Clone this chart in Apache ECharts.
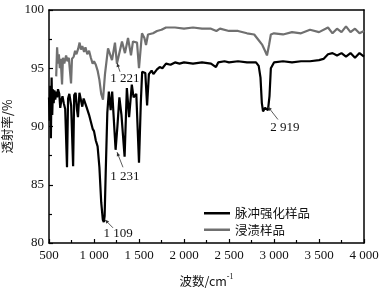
<!DOCTYPE html>
<html>
<head>
<meta charset="utf-8">
<script src="https://cdn.jsdelivr.net/npm/echarts@6/dist/echarts.min.js"></script>
<style>
  html, body { margin: 0; padding: 0; background: #fff; }
  #chart { width: 391px; height: 288px; }
</style>
</head>
<body>
<div id="chart"></div>
<script>
// 脉冲强化样品 [wavenumber, transmittance]
const pulseData = [
  [500, 92.5], [508, 90.5], [514, 93.5], [521, 89.0], [529, 94.2], [536, 91.0], [544, 93.2],
  [552, 92.0], [560, 93.1], [570, 92.3], [580, 93.0], [590, 92.5], [600, 93.2], [614, 92.8],
  [625, 91.6], [636, 92.2], [650, 92.6], [664, 92.0], [680, 91.5], [700, 86.5], [712, 92.4],
  [726, 92.8], [746, 91.8], [768, 86.6], [780, 92.7], [796, 92.9], [810, 91.5], [822, 90.8],
  [838, 92.9], [855, 92.8], [870, 91.7], [885, 92.4], [900, 92.5], [920, 91.6], [945, 91.0],
  [965, 90.4], [985, 89.8], [1000, 89.6], [1020, 88.8], [1040, 88.3], [1060, 86.5],
  [1080, 83.5], [1098, 82.0], [1109, 81.8], [1118, 82.3], [1130, 86.0], [1148, 91.2],
  [1165, 93.0], [1185, 91.4], [1202, 93.0], [1240, 88.0], [1260, 90.0], [1282, 92.5],
  [1305, 91.0], [1340, 87.4], [1365, 93.3], [1390, 90.8], [1420, 93.6], [1440, 92.5],
  [1470, 92.8], [1500, 86.9], [1520, 92.0], [1535, 94.7], [1570, 94.6], [1590, 91.8],
  [1610, 94.5], [1640, 94.8], [1660, 94.5], [1700, 94.9], [1730, 95.1], [1760, 95.0],
  [1800, 95.4], [1850, 95.3], [1900, 95.5], [1950, 95.4], [2000, 95.5], [2100, 95.4],
  [2200, 95.5], [2300, 95.4], [2355, 95.1], [2380, 95.5], [2450, 95.6], [2500, 95.5],
  [2600, 95.6], [2700, 95.5], [2800, 95.5], [2830, 95.2], [2850, 94.2], [2865, 92.0],
  [2878, 91.3], [2900, 91.6], [2920, 91.7], [2933, 91.4], [2950, 92.6], [2965, 95.0],
  [3000, 95.5], [3100, 95.6], [3200, 95.5], [3300, 95.6], [3400, 95.6], [3500, 95.7],
  [3550, 95.8], [3600, 96.2], [3650, 96.3], [3700, 96.1], [3750, 96.3], [3800, 96.0],
  [3850, 96.3], [3900, 95.9], [3950, 96.3], [4000, 96.0]
];
// 浸渍样品
const dipData = [
  [580, 94.3], [590, 96.8], [600, 95.4], [610, 96.2], [620, 95.0], [630, 95.8], [645, 93.6],
  [655, 95.9], [670, 95.4], [690, 96.1], [705, 95.6], [720, 95.9], [745, 93.7], [755, 95.8],
  [775, 96.0], [790, 96.5], [805, 96.2], [825, 96.7], [840, 97.2], [855, 96.6], [870, 96.9],
  [890, 96.4], [905, 96.8], [925, 96.2], [945, 96.5], [965, 95.9], [985, 95.4], [1000, 95.6],
  [1020, 95.3], [1040, 94.8], [1060, 94.0], [1080, 92.8], [1100, 92.3], [1122, 94.5],
  [1156, 96.7], [1200, 95.7], [1233, 97.2], [1255, 95.4], [1311, 97.3], [1344, 96.3],
  [1378, 97.6], [1411, 96.1], [1433, 97.3], [1478, 97.2], [1500, 95.0], [1533, 98.0],
  [1560, 97.6], [1578, 97.0], [1600, 97.9], [1656, 98.0], [1700, 98.2], [1750, 98.3],
  [1800, 98.5], [1900, 98.5], [2000, 98.4], [2100, 98.5], [2200, 98.4], [2300, 98.4],
  [2360, 98.2], [2400, 98.4], [2500, 98.2], [2600, 98.2], [2700, 98.0], [2780, 97.9],
  [2830, 97.4], [2870, 97.0], [2900, 96.5], [2922, 96.1], [2945, 97.0], [2965, 97.9],
  [3000, 98.0], [3100, 97.9], [3200, 98.1], [3300, 98.0], [3400, 98.3], [3500, 98.1],
  [3600, 98.5], [3650, 98.0], [3700, 98.4], [3750, 98.1], [3800, 98.6], [3850, 98.1],
  [3900, 98.4], [3950, 98.0], [4000, 98.2]
];
const seriesNames = ['脉冲强化样品', '浸渍样品'];
// peak labels: text, arrow tip, arrow tail, label centre (data units)
const peakNotes = [
  { text: '1 109', tip: [1122, 82.0], tail: [1211, 81.3], at: [1267, 80.8] },
  { text: '1 231', tip: [1256, 87.8], tail: [1322, 86.5], at: [1344, 85.7] },
  { text: '1 221', tip: [1256, 95.45], tail: [1289, 94.7], at: [1344, 94.1] },
  { text: '2 919', tip: [2933, 91.7], tail: [3044, 90.6], at: [3122, 89.9] }
];

const serif = '"Liberation Serif", "Times New Roman", serif';
const cjk = '"Noto Sans CJK SC", sans-serif';
const fmtNum = v => {
  const s = String(v);
  return s.length > 3 ? s.slice(0, s.length - 3) + ' ' + s.slice(-3) : s;
};

const chart = echarts.init(document.getElementById('chart'));
chart.setOption({
  animation: false,
  grid: { left: 49, right: 27, top: 10, bottom: 45, outerBoundsMode: 'none', containLabel: false },
  legend: {
    orient: 'vertical',
    left: 199, top: 202,
    itemWidth: 26, itemHeight: 2.5, itemGap: 4,
    icon: 'rect',
    textStyle: { fontFamily: cjk, fontSize: 12.5, color: '#111' },
    data: seriesNames
  },
  xAxis: [{
    type: 'value', min: 500, max: 4000, interval: 500,
    name: '{a|波数/cm}{s|-1}', nameLocation: 'middle', nameGap: 30,
    nameTextStyle: {
      rich: {
        a: { fontFamily: cjk, fontSize: 12.5, color: '#111' },
        s: { fontFamily: serif, fontSize: 8, color: '#111', verticalAlign: 'top', padding: [0, 0, 8, 0] }
      }
    },
    axisLine: { lineStyle: { color: '#000', width: 1.5 } },
    axisTick: { inside: true, length: 4, lineStyle: { color: '#000', width: 1.2 } },
    minorTick: { show: true, splitNumber: 2, length: 3, lineStyle: { color: '#000', width: 1.2 } },
    axisLabel: { fontFamily: serif, fontSize: 13, color: '#111', margin: 6, formatter: fmtNum },
    splitLine: { show: false }
  }, {
    type: 'value', min: 500, max: 4000, position: 'top',
    axisLine: { lineStyle: { color: '#000', width: 1.5 } },
    axisTick: { show: false }, axisLabel: { show: false }, splitLine: { show: false }
  }],
  yAxis: [{
    type: 'value', min: 80, max: 100, interval: 5,
    name: '透射率/%', nameLocation: 'middle', nameGap: 29, nameRotate: 90,
    nameTextStyle: { fontFamily: cjk, fontSize: 12.5, color: '#111' },
    axisLine: { show: true, lineStyle: { color: '#000', width: 1.5 } },
    axisTick: { inside: true, length: 4, lineStyle: { color: '#000', width: 1.2 } },
    minorTick: { show: true, splitNumber: 2, length: 3, lineStyle: { color: '#000', width: 1.2 } },
    axisLabel: { fontFamily: serif, fontSize: 13, color: '#111', margin: 5 },
    splitLine: { show: false }
  }, {
    type: 'value', min: 80, max: 100, position: 'right',
    axisLine: { show: true, lineStyle: { color: '#000', width: 1.5 } },
    axisTick: { show: false }, axisLabel: { show: false }, splitLine: { show: false }
  }],
  series: [{
    name: seriesNames[0], type: 'line', data: pulseData, showSymbol: false,
    color: '#000', lineStyle: { color: '#000', width: 2.2 }, z: 3
  }, {
    name: seriesNames[1], type: 'line', data: dipData, showSymbol: false,
    color: '#707070', lineStyle: { color: '#707070', width: 2.2 }, z: 2
  }]
});

// peak annotations positioned through the axes
const px = p => chart.convertToPixel({ xAxisIndex: 0, yAxisIndex: 0 }, p);
const graphics = [];
peakNotes.forEach(n => {
  const a = px(n.tip), b = px(n.tail), c = px(n.at);
  const ang = Math.atan2(b[1] - a[1], b[0] - a[0]);
  const h = 4, w = 1.8;
  graphics.push({
    type: 'line', z: 10,
    shape: { x1: a[0], y1: a[1], x2: b[0], y2: b[1] },
    style: { stroke: '#333', lineWidth: 0.8 }
  });
  graphics.push({
    type: 'polygon', z: 10,
    shape: { points: [
      a,
      [a[0] + h * Math.cos(ang) - w * Math.sin(ang), a[1] + h * Math.sin(ang) + w * Math.cos(ang)],
      [a[0] + h * Math.cos(ang) + w * Math.sin(ang), a[1] + h * Math.sin(ang) - w * Math.cos(ang)]
    ] },
    style: { fill: '#333' }
  });
  graphics.push({
    type: 'text', z: 10, x: c[0], y: c[1],
    style: { text: n.text, font: '13px ' + serif, fill: '#111', align: 'center', verticalAlign: 'middle' }
  });
});
chart.setOption({ graphic: graphics });
</script>
</body>
</html>
